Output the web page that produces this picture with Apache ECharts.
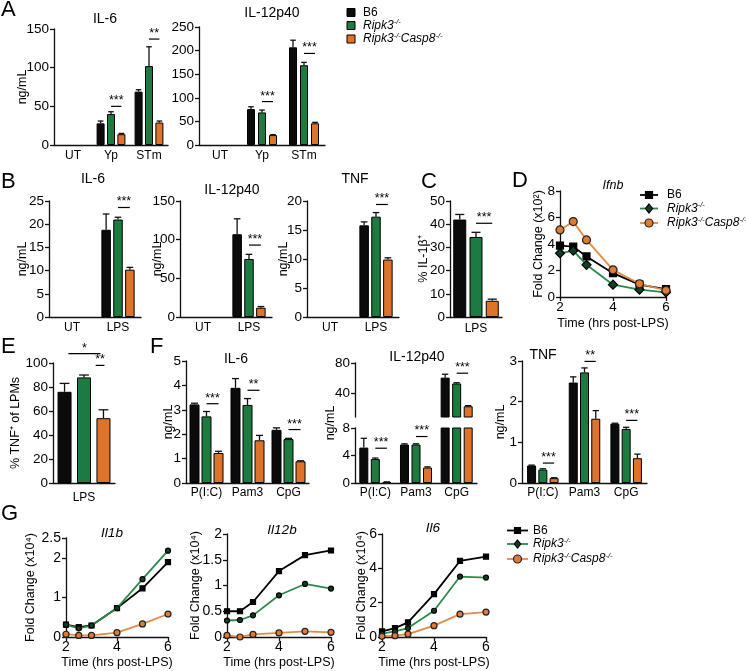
<!DOCTYPE html>
<html>
<head>
<meta charset="utf-8">
<script src="https://cdn.jsdelivr.net/npm/echarts@6/dist/echarts.min.js"></script>
<style>
  html, body { margin: 0; padding: 0; background: #fff; }
  #fig { width: 746px; height: 671px; }
</style>
</head>
<body>
<div id="fig"></div>
<script>
// ---- data ----
const groups = ['B6', 'Ripk3-/-', 'Ripk3-/-Casp8-/-'];

// A
const catsA = ['UT', 'Yp', 'STm'];
const aIL6 = [[0, 28, 69], [0, 40, 102], [0, 14, 29]];
const aIL6Err = [[0, 3, 2.5], [0, 3, 25], [0, 1, 2]];
const aIL6Sig = [[1, 50, 0, 1, 3], [2, 137, 0, 1, 2]];
const aIL12 = [[0, 76, 207], [0, 69, 169], [0, 21, 46]];
const aIL12Err = [[0, 5, 15], [0, 5, 6], [0, 1, 2]];
const aIL12Sig = [[1, 92, 0, 1, 3], [2, 194, 0, 1, 3]];

// B
const catsB = ['UT', 'LPS'];
const bIL6 = [[0, 18.8], [0, 21.0], [0, 10.2]];
const bIL6Err = [[0, 3.4], [0, 0.5], [0, 0.5]];
const bIL6Sig = [[1, 23.6, 0, 1, 3]];
const bIL12 = [[0, 107], [0, 75], [0, 12]];
const bIL12Err = [[0, 20], [0, 6], [0, 1.5]];
const bIL12Sig = [[1, 93, 0, 1, 3]];
const bTNF = [[0, 15.8], [0, 17.3], [0, 9.9]];
const bTNFErr = [[0, 0.6], [0, 0.7], [0, 0.3]];
const bTNFSig = [[1, 19.4, 0, 1, 3]];

// C
const catsC = ['LPS'];
const cIL1b = [[42], [34.5], [7]];
const cIL1bErr = [[2.2], [2], [0.7]];
const cIL1bSig = [[0, 40.4, 0, 1, 3]];

// D
const timeD = [2, 2.5, 3, 4, 5, 6];
const dIfnb = [
  [3.88, 3.8, 3.06, 1.8, 0.93, 0.6],
  [3.3, 3.5, 2.43, 0.93, 0.55, 0.35],
  [5.06, 5.69, 4.31, 2.05, 1.0, 0.5]
];

// E
const catsE = ['LPS'];
const eTNF = [[76], [88], [54]];
const eTNFErr = [[7], [2], [7]];
const eTNFSig = [[0, 107.8, -0.8, 0.85, 1], [0, 98, 0.6, 1.05, 2]];

// F
const catsF = ['P(I:C)', 'Pam3', 'CpG'];
const fIL6 = [[3.22, 3.9, 2.18], [2.73, 3.2, 1.8], [1.23, 1.75, 0.89]];
const fIL6Err = [[0.05, 0.38, 0.08], [0.2, 0.26, 0.03], [0.07, 0.2, 0.02]];
const fIL6Sig = [[0, 3.25, 0, 1, 3], [1, 3.8, 0, 1, 2], [2, 2.19, 0, 1, 3]];
const fIL12 = [[5.15, 5.6, 60.5], [3.48, 5.6, 52.7], [0.15, 2.25, 22.3]];
const fIL12Err = [[1.35, 0.1, 4.5], [0.15, 0.1, 1], [0.02, 0.1, 0.8]];
const fIL12SigLow = [[0, 5.06, 0, 1, 3], [1, 6.76, 0, 1, 3]];
const fIL12SigHigh = [[2, 66.4, 0, 1, 3]];
const fTNF = [[0.43, 2.47, 1.46], [0.33, 2.72, 1.33], [0.12, 1.58, 0.61]];
const fTNFErr = [[0.01, 0.14, 0.01], [0.02, 0.11, 0.04], [0.01, 0.2, 0.1]];
const fTNFSig = [[0, 0.49, 0, 1, 3], [1, 2.99, 0, 1, 2], [2, 1.54, 0, 1, 3]];

// G
const timeG = [2, 2.5, 3, 4, 5, 6];
const gIl1b = [
  [0.31, 0.25, 0.29, 0.73, 1.23, 1.89],
  [0.31, 0.22, 0.29, 0.73, 1.46, 2.18],
  [0.07, 0.04, 0.04, 0.11, 0.33, 0.58]
];
const gIl12b = [
  [0.5, 0.5, 0.68, 1.28, 1.59, 1.68],
  [0.32, 0.33, 0.42, 0.81, 1.03, 0.94],
  [0.03, 0.0, 0.05, 0.08, 0.11, 0.09]
];
const gIl6 = [
  [0.33, 0.52, 0.85, 2.5, 4.43, 4.68],
  [0.19, 0.33, 0.52, 1.53, 3.52, 3.46],
  [0.04, 0.08, 0.17, 0.66, 1.33, 1.45]
];

// ---- styles ----
const FONT = '"Liberation Sans", Arial, Helvetica, sans-serif';
const AX = '#111';
const TICK_FS = 13.5;
const BAR_COLORS = ['#0b0b0b', '#1e7b3f', '#e0732a'];
const LINE_STY = [
  { line: '#000', fill: '#000', border: '#000', symD: 'rect', sizeD: 7, symG: 'rect', sizeG: 5, legG: 6 },
  { line: '#2b8a4b', fill: '#143d22', border: '#000', symD: 'diamond', sizeD: 9, symG: 'circle', sizeG: 5, legG: 8 },
  { line: '#e48a45', fill: '#e07a35', border: '#222', symD: 'circle', sizeD: 8, symG: 'circle', sizeG: 6, legG: 8 }
];

const grids = [], xAxes = [], yAxes = [], series = [], graphics = [];

function addGrid(b) {
  grids.push({ left: b[0], top: b[1], width: b[2], height: b[3], containLabel: false, outerBoundsMode: 'none' });
  return grids.length - 1;
}

function addX(gi, o) {
  const ax = {
    gridIndex: gi,
    type: o.cats ? 'category' : 'value',
    axisLine: { show: o.hide !== true, onZero: false, lineStyle: { color: AX, width: 1.3 } },
    axisTick: { show: !o.cats && o.hide !== true, length: 4, lineStyle: { color: AX, width: 1.3 } },
    axisLabel: { show: o.hide !== true, color: '#000', fontFamily: FONT, fontSize: o.cats ? 12 : (o.fs || TICK_FS), margin: o.margin || 4, hideOverlap: false },
    splitLine: { show: false }
  };
  if (o.cats) { ax.data = o.cats; ax.axisLabel.interval = 0; }
  else { ax.min = o.min; ax.max = o.max; ax.interval = o.interval; }
  if (o.name) {
    ax.name = o.name; ax.nameLocation = 'middle'; ax.nameGap = o.nameGap; ax.nameMoveOverlap = false;
    ax.nameTextStyle = { color: '#000', fontFamily: FONT, fontSize: 12.5 };
  }
  xAxes.push(ax);
  return xAxes.length - 1;
}

function addY(gi, o) {
  const ax = {
    gridIndex: gi, type: 'value', min: o.min, max: o.max, interval: o.interval,
    axisLine: { show: true, lineStyle: { color: AX, width: 1.3 } },
    axisTick: { show: true, length: 4, lineStyle: { color: AX, width: 1.3 } },
    axisLabel: { color: '#000', fontFamily: FONT, fontSize: o.fs || TICK_FS, margin: 5 },
    splitLine: { show: false }
  };
  if (o.custom) { ax.axisLabel.customValues = o.custom; ax.axisTick.customValues = o.custom; }
  if (o.name) {
    ax.name = o.name; ax.nameLocation = 'middle'; ax.nameGap = o.nameGap; ax.nameMoveOverlap = false;
    ax.nameTextStyle = { color: '#000', fontFamily: FONT, fontSize: 12.5 };
  }
  yAxes.push(ax);
  return yAxes.length - 1;
}

function errSeries(xi, yi, data, bar) {
  const pitch = bar.w * (1 + bar.gap);
  series.push({
    type: 'custom', xAxisIndex: xi, yAxisIndex: yi, data: data, encode: { x: 0, y: 2 },
    silent: true, z: 3,
    renderItem: function (params, api) {
      const mean = api.value(2), err = api.value(3);
      if (!err) return null;
      const c = api.coord([api.value(0), mean]);
      const t = api.coord([api.value(0), mean + err]);
      const x = c[0] + (api.value(1) - 1) * pitch;
      const cap = bar.w * 0.35;
      const st = { stroke: '#111', lineWidth: 1.3 };
      return { type: 'group', children: [
        { type: 'line', shape: { x1: x, y1: c[1], x2: x, y2: t[1] }, style: st },
        { type: 'line', shape: { x1: x - cap, y1: t[1], x2: x + cap, y2: t[1] }, style: st }
      ] };
    }
  });
}

function sigSeries(xi, yi, data, bar) {
  const pitch = bar.w * (1 + bar.gap);
  series.push({
    type: 'custom', xAxisIndex: xi, yAxisIndex: yi, data: data, encode: { x: 0, y: 1 },
    silent: true, z: 4,
    renderItem: function (params, api) {
      const c = api.coord([api.value(0), api.value(1)]);
      const x0 = c[0] + api.value(2) * pitch, x1 = c[0] + api.value(3) * pitch;
      return { type: 'group', children: [
        { type: 'line', shape: { x1: x0, y1: c[1], x2: x1, y2: c[1] }, style: { stroke: '#000', lineWidth: 1.2 } },
        { type: 'text', x: (x0 + x1) / 2, y: c[1] + 1,
          style: { text: '*'.repeat(api.value(4)), fill: '#000', fontSize: 12.5, fontFamily: FONT, align: 'center', verticalAlign: 'bottom' } }
      ] };
    }
  });
}

function barSeries(xi, yi, vals, bar) {
  vals.forEach(function (arr, g) {
    series.push({
      type: 'bar', name: groups[g], xAxisIndex: xi, yAxisIndex: yi,
      // empty (untreated) bars are not drawn
      data: arr.map(function (v) { return v === 0 ? '-' : v; }),
      barWidth: bar.w, barGap: (bar.gap * 100) + '%', clip: true, silent: true,
      itemStyle: { color: BAR_COLORS[g], borderColor: '#000', borderWidth: 1 }
    });
  });
}

function errData(vals, errs, keep) {
  const out = [];
  vals.forEach(function (arr, g) {
    arr.forEach(function (v, i) {
      if (!keep || keep(v)) out.push([i, g, v, errs[g][i]]);
    });
  });
  return out;
}

function barPanel(o) {
  const gi = addGrid(o.box);
  const xi = addX(gi, { cats: o.cats, margin: o.margin || 5 });
  const yi = addY(gi, Object.assign({}, o.y, { name: o.name, nameGap: o.nameGap }));
  barSeries(xi, yi, o.vals, o.bar);
  errSeries(xi, yi, errData(o.vals, o.errs), o.bar);
  if (o.sig) sigSeries(xi, yi, o.sig, o.bar);
}

function linePanel(o) {
  const gi = addGrid(o.box);
  const xi = addX(gi, { min: 2, max: 6, interval: 2, name: 'Time (hrs post-LPS)', nameGap: o.xGap, margin: 3, fs: o.y.fs });
  const yi = addY(gi, Object.assign({}, o.y, { name: o.name, nameGap: o.nameGap }));
  [2, 0, 1].forEach(function (g) {
    const s = LINE_STY[g];
    series.push({
      type: 'line', name: groups[g], xAxisIndex: xi, yAxisIndex: yi,
      data: o.times.map(function (t, i) { return [t, o.vals[g][i]]; }),
      symbol: o.big ? s.symD : s.symG, symbolSize: o.big ? s.sizeD : s.sizeG,
      showSymbol: true, silent: true, z: 3 + g,
      lineStyle: { color: s.line, width: 1.8 },
      itemStyle: { color: s.fill, borderColor: s.border, borderWidth: 1.2 }
    });
  });
}

function text(x, y, str, size, extra) {
  const el = { type: 'text', x: x, y: y, silent: true,
    style: Object.assign({ text: str, fill: '#000', fontSize: size, fontFamily: FONT, align: 'center', verticalAlign: 'middle' }, extra || {}) };
  graphics.push(el);
  return el;
}

function vtext(x, y, str, size) {
  const el = text(x, y, str, size);
  el.rotation = Math.PI / 2;
  return el;
}

const RICH = {
  n: { fontSize: 12, fontFamily: FONT, lineHeight: 15, fill: '#000' },
  i: { fontSize: 12, fontFamily: FONT, fontStyle: 'italic', lineHeight: 15, fill: '#000' },
  s: { fontSize: 7.5, fontFamily: FONT, fontStyle: 'italic', lineHeight: 7, verticalAlign: 'top', fill: '#000' }
};
function richName(name) {
  if (name.indexOf('-/-') < 0) return '{n|' + name + '}';
  return name.split('-/-').filter(Boolean).map(function (p) { return '{i|' + p + '}{s|-/-}'; }).join('');
}

function barLegend(x, tx, ys) {
  groups.forEach(function (g, i) {
    graphics.push({ type: 'rect', silent: true, shape: { x: x, y: ys[i] - 4, width: 8, height: 8 },
      style: { fill: BAR_COLORS[i], stroke: '#000', lineWidth: 1 } });
    text(tx, ys[i], richName(g), 12, { align: 'left', rich: RICH });
  });
}

function lineLegend(x, w, tx, ys, big) {
  groups.forEach(function (g, i) {
    const s = LINE_STY[i];
    const cx = x + w / 2, cy = ys[i];
    graphics.push({ type: 'line', silent: true, shape: { x1: x, y1: cy, x2: x + w, y2: cy }, style: { stroke: s.line, lineWidth: 1.8 } });
    const sym = s.symD;
    const r = (big ? s.sizeD : s.legG) / 2;
    let el;
    if (sym === 'rect') el = { type: 'rect', shape: { x: cx - r, y: cy - r, width: 2 * r, height: 2 * r } };
    else if (sym === 'diamond') el = { type: 'polygon', shape: { points: [[cx, cy - r], [cx + r * 0.8, cy], [cx, cy + r], [cx - r * 0.8, cy]] } };
    else el = { type: 'circle', shape: { cx: cx, cy: cy, r: r } };
    el.silent = true;
    el.style = { fill: s.fill, stroke: s.border, lineWidth: 1.2 };
    graphics.push(el);
    text(tx, cy, richName(g), 12, { align: 'left', rich: RICH });
  });
}

// ---- A ----
barPanel({ box: [54, 29, 114, 116], cats: catsA, vals: aIL6, errs: aIL6Err, sig: aIL6Sig,
  y: { min: 0, max: 150, interval: 50 }, bar: { w: 8, gap: 0.3 }, name: 'ng/mL', nameGap: 25 });
barPanel({ box: [199, 27, 126, 118], cats: catsA, vals: aIL12, errs: aIL12Err, sig: aIL12Sig,
  y: { min: 0, max: 250, interval: 50 }, bar: { w: 8, gap: 0.375 } });
text(105, 19.5, 'IL-6', 14);
text(272, 13, 'IL-12p40', 14);
barLegend(347, 363, [12.5, 25.5, 39]);

// ---- B ----
barPanel({ box: [49, 201, 92, 116], cats: catsB, vals: bIL6, errs: bIL6Err, sig: bIL6Sig,
  y: { min: 0, max: 25, interval: 5 }, bar: { w: 9.5, gap: 0.25 }, name: 'ng/mL', nameGap: 20 });
barPanel({ box: [180, 201, 92, 116], cats: catsB, vals: bIL12, errs: bIL12Err, sig: bIL12Sig,
  y: { min: 0, max: 150, interval: 50 }, bar: { w: 9.5, gap: 0.25 }, name: 'ng/mL', nameGap: 16 });
barPanel({ box: [307, 201, 92, 116], cats: catsB, vals: bTNF, errs: bTNFErr, sig: bTNFSig,
  y: { min: 0, max: 20, interval: 5 }, bar: { w: 9.5, gap: 0.25 }, name: 'ng/mL', nameGap: 17 });
text(93, 179, 'IL-6', 14);
text(232, 190, 'IL-12p40', 14);
text(355, 179.5, 'TNF', 14);

// ---- C ----
barPanel({ box: [450, 201, 52, 116], cats: catsC, vals: cIL1b, errs: cIL1bErr, sig: cIL1bSig,
  y: { min: 0, max: 50, interval: 10 }, bar: { w: 13, gap: 0.25 }, name: '% IL-1β⁺', nameGap: 20, margin: 6 });

// ---- D ----
linePanel({ box: [560, 191, 106, 106], times: timeD, vals: dIfnb, big: true,
  y: { min: 0, max: 8, interval: 2 }, name: 'Fold Change (x10²)', nameGap: 15, xGap: 20 });
text(613, 185.5, 'Ifnb', 12.5, { fontStyle: 'italic' });
lineLegend(640, 18, 667, [195, 208.5, 223], true);

// ---- E ----
barPanel({ box: [53, 363, 62, 120], cats: catsE, vals: eTNF, errs: eTNFErr, sig: eTNFSig,
  y: { min: 0, max: 100, interval: 20 }, bar: { w: 14, gap: 0.39 }, name: '% TNF⁺ of LPMs', nameGap: 31, margin: 9 });

// ---- F ----
barPanel({ box: [186, 361, 123, 122], cats: catsF, vals: fIL6, errs: fIL6Err, sig: fIL6Sig,
  y: { min: 0, max: 5, interval: 1 }, bar: { w: 10, gap: 0.2 }, name: 'ng/mL', nameGap: 11, margin: 4 });
text(236, 359, 'IL-6', 14);

// IL-12p40 with a broken axis: upper 8-80, lower 0-8
(function () {
  const bar = { w: 9, gap: 0.28 };
  const gUp = addGrid([355, 363, 122, 54]);
  const xUp = addX(gUp, { cats: catsF, hide: true });
  const yUp = addY(gUp, { min: 8, max: 80, interval: 8, custom: [40, 80] });
  barSeries(xUp, yUp, fIL12.map(function (a) { return a.map(function (v) { return v > 8 ? v : '-'; }); }), bar);
  errSeries(xUp, yUp, errData(fIL12, fIL12Err, function (v) { return v > 8; }), bar);
  sigSeries(xUp, yUp, fIL12SigHigh, bar);

  const gLo = addGrid([355, 428, 122, 55]);
  const xLo = addX(gLo, { cats: catsF, margin: 4 });
  const yLo = addY(gLo, { min: 0, max: 8, interval: 4 });
  barSeries(xLo, yLo, fIL12, bar);
  errSeries(xLo, yLo, errData(fIL12, fIL12Err, function (v) { return v <= 8; }), bar);
  sigSeries(xLo, yLo, fIL12SigLow, bar);
})();
vtext(331, 423, 'ng/mL', 12.5);
text(417, 357, 'IL-12p40', 14);

barPanel({ box: [522, 361, 125, 122], cats: catsF, vals: fTNF, errs: fTNFErr, sig: fTNFSig,
  y: { min: 0, max: 3, interval: 1 }, bar: { w: 9, gap: 0.25 }, name: 'ng/mL', nameGap: 15, margin: 4 });
text(543, 355, 'TNF', 14);

// ---- G ----
linePanel({ box: [66, 538, 102, 99], times: timeG, vals: gIl1b,
  y: { min: 0, max: 2.5, interval: 0.5, custom: [0, 1, 2, 2.5], fs: 14 }, name: 'Fold Change (x10⁴)', nameGap: 29, xGap: 19 });
linePanel({ box: [227, 534, 104, 103], times: timeG, vals: gIl12b,
  y: { min: 0, max: 2, interval: 0.5, fs: 14 }, name: 'Fold Change (x10⁴)', nameGap: 25, xGap: 19 });
linePanel({ box: [382, 534, 104, 103], times: timeG, vals: gIl6,
  y: { min: 0, max: 6, interval: 2, fs: 14 }, name: 'Fold Change (x10⁴)', nameGap: 14, xGap: 19 });
text(112, 533, 'Il1b', 13.5, { fontStyle: 'italic' });
text(282, 530, 'Il12b', 13.5, { fontStyle: 'italic' });
text(433, 528, 'Il6', 13.5, { fontStyle: 'italic' });
lineLegend(507, 21, 533, [530.5, 544, 559], false);

// ---- panel letters ----
[['A', 1, 10], ['B', 1, 182], ['C', 421, 182], ['D', 512, 181], ['E', 1, 347], ['F', 150, 347], ['G', 1, 514]]
  .forEach(function (l) { text(l[1], l[2], l[0], 22, { align: 'left' }); });

const chart = echarts.init(document.getElementById('fig'), null, { renderer: 'canvas' });
chart.setOption({
  animation: false,
  backgroundColor: '#fff',
  textStyle: { fontFamily: FONT },
  grid: grids,
  xAxis: xAxes,
  yAxis: yAxes,
  series: series,
  graphic: { elements: graphics }
});
</script>
</body>
</html>
